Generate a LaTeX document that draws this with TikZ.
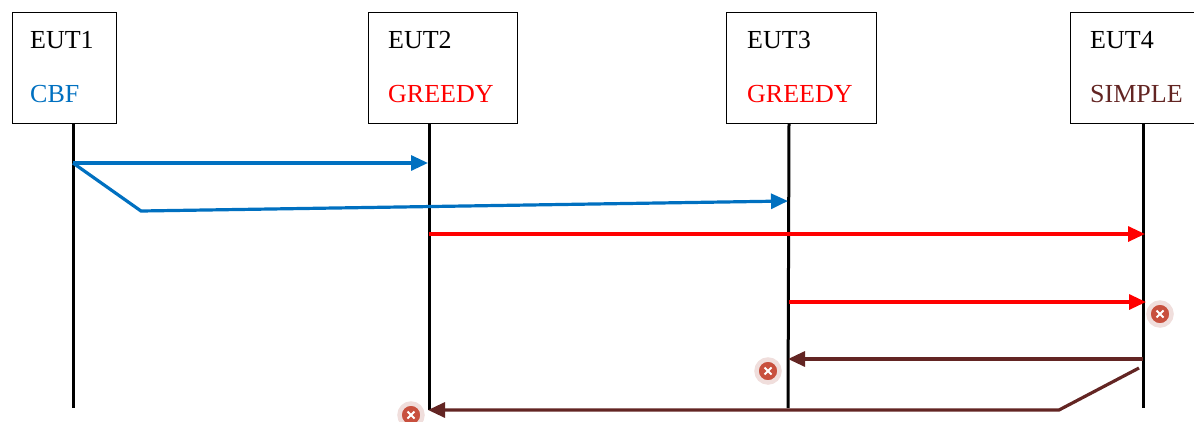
\documentclass[tikz,border=0pt]{standalone}
\usepackage{fontspec}
\setmainfont{Liberation Serif}
\usetikzlibrary{arrows.meta}
\definecolor{cbfblue}{RGB}{0,112,192}
\definecolor{simplebrown}{RGB}{99,37,35}
\definecolor{failred}{RGB}{200,80,62}
\definecolor{failhalo}{RGB}{240,222,220}

\begin{document}
\begin{tikzpicture}
[x=1pt,y=-1pt,
eut/.style={draw,line width=1.3pt,anchor=north west,minimum height=111pt,inner sep=0pt},
lbl/.style={anchor=base west,font=\fontsize{26}{30}\selectfont,inner sep=0pt},
life/.style={line width=3pt},
msg/.style={line width=3.2pt,-{Triangle[length=17pt,width=15pt]}},
fail/.style={circle,fill=failred,draw=failhalo,line width=4.5pt,minimum size=23pt,inner sep=0pt,
  path picture={\draw[white,line width=2pt] ([shift={(-3.5,-3.5)}]path picture bounding box.center) -- ++(7,7)
  ([shift={(-3.5,3.5)}]path picture bounding box.center) -- ++(7,-7);}}]
\path[use as bounding box,clip] (0,0) rectangle (1194,421);
% boxes
\node [eut,minimum width=104pt] (box1) at (12,12) {};
\node [eut,minimum width=149pt] (box2) at (368,12) {};
\node [eut,minimum width=150pt] (box3) at (726,12) {};
\node [eut,minimum width=150pt] (box4) at (1070,12) {};
\node [lbl] (eut1) at (30,48) {EUT1};
\node [lbl,cbfblue] (cbf) at (30,102) {CBF};
\node [lbl] (eut2) at (388,48) {EUT2};
\node [lbl,red] (greedy2) at (388,102) {GREEDY};
\node [lbl] (eut3) at (747,48) {EUT3};
\node [lbl,red] (greedy3) at (747,102) {GREEDY};
\node [lbl] (eut4) at (1090,48) {EUT4};
\node [lbl,simplebrown] (simple) at (1090,102) {SIMPLE};
% lifelines
\coordinate (top1) at (73,123); \coordinate (bot1) at (73,408);
\coordinate (top2) at (429,123); \coordinate (bot2) at (429,410);
\coordinate (top3) at (789,123); \coordinate (bot3) at (788,408);
\coordinate (top4) at (1143,123); \coordinate (bot4) at (1143,408);
\draw [life] (top1) -- (bot1);
\draw [life] (top2) -- (bot2);
\draw [life] (top3) -- (bot3);
\draw [life] (top4) -- (bot4);
% messages
\coordinate (cbf from) at (73,163);
\coordinate (cbf to2) at (428,163);
\coordinate (cbf bend) at (141,211);
\coordinate (cbf to3) at (788,201);
\draw [msg,cbfblue] (cbf from) -- (cbf to2);
\draw [msg,cbfblue] (cbf from) -- (cbf bend) -- (cbf to3);
\coordinate (g2 from) at (429,234);
\coordinate (g2 to) at (1145,234);
\draw [msg,red] (g2 from) -- (g2 to);
\coordinate (g3 from) at (789,302);
\coordinate (g3 to) at (1146,302);
\draw [msg,red] (g3 from) -- (g3 to);
\coordinate (s from) at (1143,359);
\coordinate (s to3) at (788,359);
\draw [msg,simplebrown] (s from) -- (s to3);
\coordinate (s start) at (1139,368);
\coordinate (s bend) at (1059,410);
\coordinate (s to2) at (428,410);
\draw [msg,simplebrown] (s start) -- (s bend) -- (s to2);
% lost messages
\node [fail] (lost4) at (1160,314) {};
\node [fail] (lost3) at (768,371) {};
\node [fail] (lost2) at (411,415) {};
\end{tikzpicture}
\end{document}
